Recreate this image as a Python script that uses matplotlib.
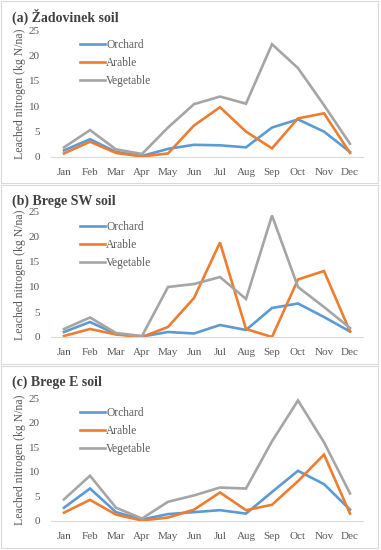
import matplotlib.pyplot as plt
import numpy as np
from matplotlib.patches import Rectangle

months = ['Jan', 'Feb', 'Mar', 'Apr', 'May', 'Jun',
          'Jul', 'Aug', 'Sep', 'Oct', 'Nov', 'Dec']
series_names = ['Orchard', 'Arable', 'Vegetable']

# (a) Zadovinek
zad_orchard = [1.3, 3.5, 1.0, 0.2, 1.6, 2.4, 2.3, 1.9, 5.8, 7.4, 5.0, 1.0]
zad_arable = [0.7, 3.0, 0.8, 0.1, 0.7, 6.2, 9.8, 5.0, 1.7, 7.6, 8.6, 0.8]
zad_vegetable = [1.9, 5.3, 1.5, 0.6, 5.8, 10.4, 11.9, 10.5, 22.2, 17.5, 10.2, 2.6]

# (b) Brege SW
bsw_orchard = [1.0, 3.0, 0.6, 0.1, 1.0, 0.7, 2.4, 1.4, 5.8, 6.7, 4.0, 1.1]
bsw_arable = [0.2, 1.6, 0.5, 0.0, 2.0, 7.8, 18.9, 1.6, 0.0, 11.5, 13.2, 1.1]
bsw_vegetable = [1.6, 3.9, 0.8, 0.2, 10.0, 10.6, 12.0, 7.6, 24.3, 10.0, 6.0, 1.8]

# (c) Brege E
be_orchard = [2.7, 6.6, 1.8, 0.3, 1.4, 1.8, 2.2, 1.5, 5.9, 10.2, 7.5, 2.3]
be_arable = [1.7, 4.3, 1.3, 0.1, 0.7, 2.3, 5.8, 2.2, 3.3, 8.1, 13.5, 1.5]
be_vegetable = [4.4, 9.2, 2.7, 0.5, 3.9, 5.2, 6.8, 6.6, 16.2, 24.5, 16.0, 5.6]

titles = ['(a) Žadovinek soil', '(b) Brege SW soil', '(c) Brege E soil']
panels = [
    [zad_orchard, zad_arable, zad_vegetable],
    [bsw_orchard, bsw_arable, bsw_vegetable],
    [be_orchard, be_arable, be_vegetable],
]
colors = ['#5B9BD5', '#ED7D31', '#A5A5A5']

W, H = 381, 550
plt.rcParams['font.family'] = ['Liberation Serif', 'DejaVu Serif']
fig = plt.figure(figsize=(W / 100, H / 100), dpi=100)

# pixel layout: (frame top, frame bottom, y of zero, y of 25)
layout = [(1, 183, 157, 30), (185, 364, 337, 212), (366, 548, 521, 398)]
ax_left, ax_right = 51, 363

x = np.arange(len(months))
for k, (ftop, fbot, y0, y25) in enumerate(layout):
    fig.patches.append(Rectangle((1 / W, 1 - fbot / H), 377 / W, (fbot - ftop) / H,
                                 transform=fig.transFigure, fill=False,
                                 edgecolor='#D9D9D9', lw=0.8))
    ax = fig.add_axes([ax_left / W, 1 - y0 / H, (ax_right - ax_left) / W, (y0 - y25) / H])
    for vals, name, c in zip(panels[k], series_names, colors):
        ax.plot(x, vals, color=c, lw=1.9, label=name, solid_joinstyle='miter')
    ax.set_xlim(-0.5, 11.5)
    ax.set_ylim(0, 25)
    ax.set_yticks([0, 5, 10, 15, 20, 25])
    ax.set_xticks(x)
    ax.set_xticklabels(months)
    ax.tick_params(axis='both', length=0, labelsize=8, labelcolor='#595959')
    ax.tick_params(axis='x', pad=8)
    ax.tick_params(axis='y', pad=8)
    for s in ['top', 'right', 'left']:
        ax.spines[s].set_visible(False)
    ax.spines['bottom'].set_color('#D9D9D9')
    ax.patch.set_alpha(0)
    ax.set_ylabel('Leached nitrogen (kg N/na)', fontsize=8.5, color='#595959', labelpad=2)
    ax.legend(loc='upper left', bbox_to_anchor=(0.06, 1.01), frameon=False,
              fontsize=8.3, handlelength=2.2, handletextpad=0.05,
              labelspacing=0.5, labelcolor='#595959')
    fig.text(12 / W, 1 - (ftop + 16) / H, titles[k], fontsize=10,
             fontweight='bold', va='center', ha='left', color='#404040')

fig.savefig('out.png', dpi=100)
